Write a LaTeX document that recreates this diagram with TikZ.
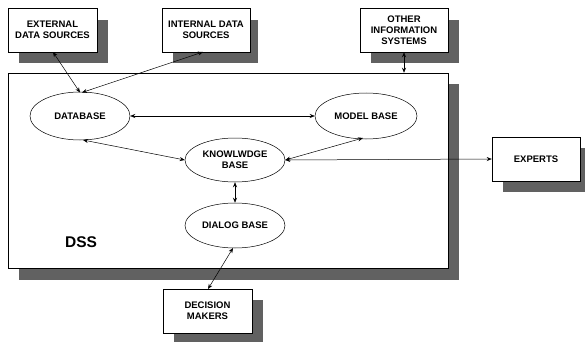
\documentclass[tikz,border=0pt]{standalone}
\usepackage{fontspec}
\setmainfont{Liberation Sans}
\usetikzlibrary{arrows.meta,shapes.geometric}
\begin{document}
\begin{tikzpicture}[x=1pt,y=-1pt,
  shadowfill/.style={fill=black!62},
  boxnode/.style={draw=black,line width=0.5pt,fill=white,rectangle,inner sep=0pt,align=center,font=\fontsize{9.5}{11}\selectfont\bfseries},
  ell/.style={draw=black,line width=0.5pt,fill=white,ellipse,inner sep=0pt,align=center,font=\fontsize{9.5}{11}\selectfont\bfseries},
  conn/.style={line width=0.5pt,{Stealth[length=5pt,width=4pt]}-{Stealth[length=5pt,width=4pt]}}]
\useasboundingbox (0,0) rectangle (585,342);
% shadows
\fill[shadowfill] (19,20) rectangle (108,63);
\fill[shadowfill] (173,20) rectangle (258,63);
\fill[shadowfill] (371,20) rectangle (459,63);
\fill[shadowfill] (19,84) rectangle (459,280);
\fill[shadowfill] (503,148) rectangle (585,192);
\fill[shadowfill] (174,300) rectangle (263,342);
% main box
\node[draw=black,line width=0.5pt,fill=white,minimum width=440pt,minimum height=195pt,inner sep=0pt] (dss) at (228,170.5) {};
\node[font=\fontsize{15.5}{17}\selectfont\bfseries] (dsslabel) at (81,242) {DSS};
% outer boxes
\node[boxnode,minimum width=89pt,minimum height=44pt] (ext) at (52.5,30) {EXTERNAL\\DATA SOURCES};
\node[boxnode,minimum width=88pt,minimum height=44pt] (int) at (206,30) {INTERNAL DATA\\SOURCES};
\node[boxnode,minimum width=88pt,minimum height=44pt] (oth) at (404,30) {OTHER\\INFORMATION\\SYSTEMS};
\node[boxnode,minimum width=88pt,minimum height=44pt] (exp) at (536,159) {EXPERTS};
\node[boxnode,minimum width=89pt,minimum height=44pt] (dm) at (207.5,311) {DECISION\\MAKERS};
% ellipses
\node[ell,minimum width=100pt,minimum height=48pt] (db) at (80,116) {DATABASE};
\node[ell,minimum width=102pt,minimum height=46pt] (mb) at (366,116) {MODEL BASE};
\node[ell,minimum width=100pt,minimum height=44pt] (kb) at (235,160) {KNOWLWDGE\\BASE};
\node[ell,minimum width=100pt,minimum height=45pt] (dlg) at (235,225.5) {DIALOG BASE};
% connectors
\coordinate (dbtop) at (80,92.5);
\draw[conn] (53,52) -- (dbtop);
\draw[conn] (203,52) -- (82,92.5);
\draw[conn] (oth.south) -- (dss.north -| oth.south);
\draw[conn] (db.east) -- (mb.west);
\draw[conn] (83,140) -- (kb.west);
\draw[conn] (363,138) -- (kb.east);
\draw[conn] (kb.east) -- (exp.west);
\draw[conn] (kb.south) -- (dlg.north);
\draw[conn] (233,248) -- (208,289);
\end{tikzpicture}
\end{document}
